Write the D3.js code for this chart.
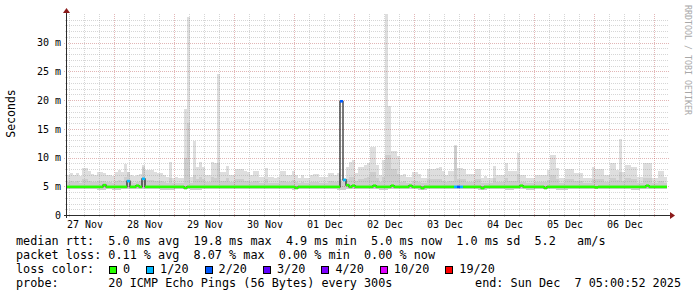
<!DOCTYPE html>
<html>
<head>
<meta charset="utf-8">
<script src="https://cdn.jsdelivr.net/npm/d3@7"></script>
<style>
  body { margin: 0; background: #fff; }
  svg { display: block; font-family: "DejaVu Sans Mono", monospace; }
  .pre { white-space: pre; }
</style>
</head>
<body>
<svg id="chart" width="697" height="297"></svg>
<script>
// one column = 72 minutes, 200 columns over the last 10 days
const startTime = Date.UTC(2025, 10, 27, 5, 0, 52);
const endTime = Date.UTC(2025, 11, 7, 5, 0, 52);
const stepMinutes = 72;

// median rtt per column (ms)
const medianRtt = [
  4.9,4.9,4.9,4.9,4.9,4.9,4.9,4.9,4.9,4.9,4.9,4.9,5.2,4.9,4.9,4.9,4.9,4.9,4.9,4.9,
  5.9,4.9,4.9,5.1,4.9,6.3,4.9,4.9,4.9,4.9,4.9,4.9,4.9,4.9,4.9,4.9,4.9,4.9,4.9,4.7,
  4.9,4.9,4.9,4.9,4.9,4.9,4.9,4.9,4.9,4.9,4.9,4.9,4.9,4.9,4.9,4.9,4.9,4.9,4.9,4.9,
  4.9,4.9,4.9,4.9,4.9,4.9,4.9,4.9,4.9,4.9,4.9,4.9,4.9,4.9,4.9,4.9,4.7,4.9,4.9,4.9,
  4.9,4.9,4.9,4.9,4.9,4.9,4.9,4.9,4.9,4.9,4.9,19.8,6.1,5.2,4.9,5.1,4.9,4.9,4.9,4.9,
  4.9,4.9,5.1,4.9,4.9,4.9,4.9,4.9,5.1,4.9,4.9,4.9,4.9,4.9,5.1,4.9,4.9,4.9,4.7,4.9,
  4.9,4.9,4.9,4.9,4.9,4.9,4.9,4.9,4.9,4.9,4.9,4.9,4.9,4.9,4.9,4.9,4.9,4.9,4.7,4.9,
  4.9,4.9,4.9,4.9,4.9,4.9,4.9,4.9,4.9,4.9,4.9,5.1,4.9,4.9,4.9,4.9,4.9,4.9,4.9,4.7,
  4.9,4.9,4.9,4.9,4.9,4.9,4.9,4.9,4.9,4.9,4.9,4.9,4.9,4.9,4.9,4.9,4.8,4.9,4.9,4.9,
  4.9,4.9,4.9,4.9,4.9,4.9,4.9,4.9,4.9,4.9,4.9,4.9,4.9,5.1,4.9,4.9,4.9,4.9,4.9,4.9
];

// lost pings out of 20 per column
const lossCount = [
  0,0,0,0,0,0,0,0,0,0,0,0,0,0,0,0,0,0,0,0,
  1,0,0,0,0,1,0,0,0,0,0,0,0,0,0,0,0,0,0,0,
  0,0,0,0,0,0,0,0,0,0,0,0,0,0,0,0,0,0,0,0,
  0,0,0,0,0,0,0,0,0,0,0,0,0,0,0,0,0,0,0,0,
  0,0,0,0,0,0,0,0,0,0,0,2,1,0,0,0,0,0,0,0,
  0,0,0,0,0,0,0,0,0,0,0,0,0,0,0,0,0,0,0,0,
  0,0,0,0,0,0,0,0,0,1,2,1,0,0,0,0,0,0,0,0,
  0,0,0,0,0,0,0,0,0,0,0,0,0,0,0,0,0,0,0,0,
  0,0,0,0,0,0,0,0,0,0,0,0,0,0,0,0,0,0,0,0,
  0,0,0,0,0,0,0,0,0,0,0,0,0,0,0,0,0,0,0,0
];

// smoke: slowest ping (ms)
const smokeHigh = [
  7.0,7.3,7.0,7.3,6.8,8.1,8.1,7.6,7.1,7.0,7.5,7.5,7.3,7.0,7.0,6.8,7.5,7.8,7.5,8.9,
  7.5,7.0,6.8,7.0,7.2,8.7,7.8,7.8,7.8,7.5,7.3,7.3,7.0,6.7,9.3,6.4,6.6,6.4,6.5,18.5,
  34.5,6.7,12.8,8.4,9.3,8.4,7.0,7.0,9.3,9.0,24.5,7.5,7.5,8.6,7.0,7.0,8.0,8.0,8.0,7.6,
  7.5,7.0,7.6,7.6,6.7,6.7,8.2,6.7,6.7,6.5,6.7,7.6,7.6,7.0,7.0,7.7,7.0,6.4,7.0,6.4,
  6.4,7.0,7.1,7.1,6.7,6.7,6.7,7.3,7.3,7.0,7.3,6.2,6.5,8.4,9.3,9.6,7.3,8.4,8.4,8.7,
  9.0,11.9,11.9,8.7,7.0,9.6,35.0,19.0,11.1,11.1,10.2,7.0,7.2,6.7,6.7,7.5,7.5,7.1,6.4,6.4,
  8.0,8.0,8.0,8.2,8.4,7.6,7.0,7.6,7.6,12.2,8.2,8.2,8.0,7.1,7.1,7.1,8.0,8.0,6.4,6.8,
  6.4,6.4,8.6,7.0,7.0,7.0,9.0,7.6,7.6,7.6,10.8,7.0,7.0,6.4,6.4,6.4,7.0,7.0,7.0,7.0,
  7.8,10.4,10.4,8.2,6.4,6.4,8.0,8.0,8.0,7.3,7.3,7.3,6.4,6.4,6.4,8.4,8.0,8.0,8.0,7.0,
  7.0,9.0,9.0,7.8,13.2,7.5,8.7,8.7,8.4,8.4,6.7,6.7,9.0,9.0,9.0,6.4,6.4,7.6,7.6,6.7
];

// smoke: top of the denser inner band (ms)
const smokeMid = [
  5.8,6.0,5.8,5.9,5.6,6.2,6.2,6.0,5.8,5.8,6.0,6.0,5.9,5.7,5.7,5.6,6.0,6.1,6.0,6.6,
  7.5,5.7,5.6,5.8,5.9,8.3,6.1,6.1,6.1,6.0,5.9,5.9,5.8,5.6,6.5,5.5,5.6,5.5,5.6,10.0,
  16.0,5.6,7.0,6.3,6.6,6.3,5.8,5.8,6.6,6.4,9.0,6.0,6.0,6.4,5.8,5.8,6.2,6.2,6.2,6.0,
  6.0,5.8,6.0,6.0,5.6,5.6,6.2,5.6,5.6,5.5,5.6,6.0,6.0,5.8,5.8,6.1,5.8,5.5,5.8,5.5,
  5.5,5.8,5.8,5.8,5.6,5.6,5.6,5.9,5.9,5.8,5.9,5.8,6.3,6.3,6.6,6.7,5.9,6.3,6.3,6.5,
  6.6,7.5,7.5,6.5,5.8,6.7,10.5,10.5,8.0,8.0,7.2,5.8,5.9,5.6,5.6,6.0,6.0,5.8,5.5,5.5,
  6.2,6.2,6.2,6.3,6.3,6.0,5.8,6.0,6.0,12.0,6.3,6.3,6.2,5.8,5.8,5.8,6.2,6.2,5.5,5.6,
  5.5,5.5,6.4,5.8,5.8,5.8,6.5,6.0,6.0,6.0,7.2,5.8,5.8,5.5,5.5,5.5,5.8,5.8,5.8,5.8,
  6.1,7.0,7.0,6.3,5.5,5.5,6.2,6.2,6.2,5.9,5.9,5.9,5.5,5.5,5.5,6.3,6.2,6.2,6.2,5.8,
  5.8,6.5,6.5,6.1,7.5,5.9,6.5,6.5,6.3,6.3,5.6,5.6,6.5,6.5,6.5,5.5,5.5,6.0,6.0,5.6
];

// smoke: fastest ping (ms)
const smokeLow = [
  4.5,4.5,4.5,4.5,4.5,4.5,4.5,4.5,4.5,4.5,4.3,4.3,4.3,4.5,4.5,4.3,4.3,4.3,4.5,4.5,
  4.5,4.5,4.5,4.5,4.5,4.5,4.5,4.5,4.5,4.5,4.5,4.3,4.3,4.3,4.3,4.3,4.5,4.5,4.5,4.5,
  4.5,4.3,4.3,4.3,4.3,4.5,4.5,4.5,4.5,4.5,4.5,4.5,4.5,4.5,4.5,4.5,4.5,4.5,4.5,4.5,
  4.5,4.5,4.5,4.5,4.5,4.5,4.5,4.5,4.5,4.5,4.5,4.5,4.5,4.5,4.5,4.3,4.5,4.5,4.5,4.5,
  4.5,4.5,4.5,4.5,4.5,4.5,4.5,4.5,4.5,4.5,4.3,4.3,4.3,4.5,4.5,4.5,4.5,4.5,4.5,4.5,
  4.5,4.5,4.5,4.5,4.3,4.3,4.3,4.5,4.5,4.5,4.5,4.5,4.5,4.5,4.5,4.5,4.5,4.3,4.3,4.3,
  4.5,4.5,4.5,4.5,4.5,4.5,4.5,4.5,4.5,4.5,4.5,4.5,4.5,4.5,4.5,4.5,4.5,4.3,4.3,4.3,
  4.5,4.5,4.5,4.5,4.5,4.5,4.3,4.3,4.3,4.5,4.5,4.5,4.5,4.3,4.3,4.3,4.5,4.5,4.5,4.5,
  4.5,4.5,4.5,4.3,4.3,4.3,4.3,4.5,4.5,4.5,4.5,4.5,4.5,4.5,4.5,4.5,4.5,4.5,4.5,4.5,
  4.5,4.5,4.5,4.5,4.5,4.5,4.5,4.5,4.3,4.3,4.3,4.5,4.5,4.5,4.5,4.5,4.5,4.5,4.5,4.5
];

const yTicks = [0, 5, 10, 15, 20, 25, 30];
const yTickLabels = ['0', '5 m', '10 m', '15 m', '20 m', '25 m', '30 m'];
const dayLabels = ['27 Nov', '28 Nov', '29 Nov', '30 Nov', '01 Dec', '02 Dec', '03 Dec', '04 Dec', '05 Dec', '06 Dec'];

const lossLevels = [0, 1, 2, 3, 4, 10, 19];
const lossLabels = ['0', '1/20', '2/20', '3/20', '4/20', '10/20', '19/20'];
const lossColors = ['#26ff00', '#00b8ff', '#0059ff', '#5e00ff', '#7e00ff', '#dd00ff', '#ff0000'];

const legendRtt = 'median rtt:  5.0 ms avg  19.8 ms max  4.9 ms min  5.0 ms now  1.0 ms sd  5.2   am/s';
const legendLoss = 'packet loss: 0.11 % avg  8.07 % max  0.00 % min  0.00 % now';
const legendProbe = 'probe:       20 ICMP Echo Pings (56 Bytes) every 300s';
const legendEnd = 'end: Sun Dec  7 05:00:52 2025';

const svg = d3.select('#chart');
const plotLeft = 67, plotRight = 667, plotTop = 14, plotBottom = 215;

const x = d3.scaleUtc().domain([new Date(startTime), new Date(endTime)]).range([plotLeft, plotRight]);
const y = d3.scaleLinear().domain([0, 35]).range([plotBottom, plotTop]);
const colTime = i => new Date(startTime + i * stepMinutes * 60000);
const colW = x(colTime(1)) - x(colTime(0));
const lossColor = n => lossColors[d3.bisectRight(lossLevels, n) - 1];

// smoke
const smoke = svg.append('g').attr('shape-rendering', 'crispEdges');
smoke.selectAll('rect.hi').data(smokeHigh).join('rect')
  .attr('class', 'hi')
  .attr('x', (d, i) => x(colTime(i)))
  .attr('width', colW)
  .attr('y', d => y(d))
  .attr('height', (d, i) => y(smokeLow[i]) - y(d))
  .attr('fill', '#dedede');
smoke.selectAll('rect.mid').data(smokeMid).join('rect')
  .attr('class', 'mid')
  .attr('x', (d, i) => x(colTime(i)))
  .attr('width', colW)
  .attr('y', d => y(d))
  .attr('height', (d, i) => y(smokeLow[i]) - y(d))
  .attr('fill', '#cdcdcd');

// grid
const grid = svg.append('g').attr('shape-rendering', 'crispEdges').attr('stroke-dasharray', '1,1');
const minorColor = 'rgba(140,140,140,0.36)', majorColor = 'rgba(170,40,40,0.34)';
const hours = d3.utcHour.every(6).range(new Date(startTime), new Date(endTime)).filter(t => t.getUTCHours() !== 0);
const days = d3.utcDay.range(new Date(startTime), new Date(endTime));
const yMinor = d3.range(1, 35).filter(v => v % 5 !== 0);
const yMajor = d3.range(5, 35, 5);

grid.selectAll('line.vmin').data(hours).join('line')
  .attr('x1', d => Math.round(x(d)) + 0.5).attr('x2', d => Math.round(x(d)) + 0.5)
  .attr('y1', plotTop).attr('y2', plotBottom + 2).attr('stroke', minorColor);
grid.selectAll('line.hmin').data(yMinor).join('line')
  .attr('x1', plotLeft - 2).attr('x2', plotRight + 2)
  .attr('y1', d => Math.round(y(d)) + 0.5).attr('y2', d => Math.round(y(d)) + 0.5)
  .attr('stroke', minorColor);
grid.selectAll('line.vmaj').data(days).join('line')
  .attr('x1', d => Math.round(x(d)) + 0.5).attr('x2', d => Math.round(x(d)) + 0.5)
  .attr('y1', plotTop).attr('y2', plotBottom + 3).attr('stroke', majorColor);
grid.selectAll('line.hmaj').data(yMajor).join('line')
  .attr('x1', plotLeft - 3).attr('x2', plotRight + 3)
  .attr('y1', d => Math.round(y(d)) + 0.5).attr('y2', d => Math.round(y(d)) + 0.5)
  .attr('stroke', majorColor);

// median line and loss coloured band
const medPts = medianRtt.map((d, i) => [x(colTime(i)), y(d)]);
medPts.push([x(colTime(medianRtt.length)), y(medianRtt[medianRtt.length - 1])]);
svg.append('path')
  .attr('d', d3.line().curve(d3.curveStepAfter)(medPts))
  .attr('fill', 'none').attr('stroke', '#202020').attr('stroke-width', 1.2);
svg.append('g').selectAll('rect').data(medianRtt).join('rect')
  .attr('x', (d, i) => x(colTime(i)))
  .attr('width', colW)
  .attr('y', d => y(d) - 1.3)
  .attr('height', 2.6)
  .attr('fill', (d, i) => lossColor(lossCount[i]));

// axes
const axisCol = '#2c2c2c', arrowCol = '#8b1a1a';
svg.append('line').attr('x1', plotLeft - 3).attr('x2', plotRight + 3).attr('y1', plotBottom + 0.5).attr('y2', plotBottom + 0.5)
  .attr('stroke', axisCol).attr('shape-rendering', 'crispEdges');
svg.append('line').attr('x1', plotLeft - 0.5).attr('x2', plotLeft - 0.5).attr('y1', plotBottom + 3).attr('y2', plotTop - 2)
  .attr('stroke', axisCol).attr('shape-rendering', 'crispEdges');
svg.append('path').attr('d', `M${plotLeft - 4},${plotTop - 1}L${plotLeft + 3},${plotTop - 1}L${plotLeft - 0.5},${plotTop - 6}Z`).attr('fill', arrowCol);
svg.append('path').attr('d', `M${plotRight + 3},${plotBottom - 3}L${plotRight + 3},${plotBottom + 4}L${plotRight + 8},${plotBottom + 0.5}Z`).attr('fill', arrowCol);

const labelTimes = [d3.utcDay.floor(new Date(startTime))].concat(days).map(d => d3.utcHour.offset(d, 12)).slice(0, dayLabels.length);

const xAxis = svg.append('g').attr('transform', `translate(0,${plotBottom})`)
  .call(d3.axisBottom(x).tickValues(labelTimes).tickFormat((d, i) => dayLabels[i]).tickSize(0).tickPadding(6));
xAxis.select('.domain').remove();
xAxis.selectAll('text').attr('font-family', '"DejaVu Sans Mono", monospace').attr('font-size', 10).attr('fill', '#000');

const yAxis = svg.append('g').attr('transform', `translate(${plotLeft},0)`)
  .call(d3.axisLeft(y).tickValues(yTicks).tickFormat((d, i) => yTickLabels[i]).tickSize(0).tickPadding(6));
yAxis.select('.domain').remove();
yAxis.selectAll('text').attr('font-family', '"DejaVu Sans Mono", monospace').attr('font-size', 10).attr('fill', '#000');

// titles
svg.append('text').attr('transform', 'translate(15,113.5) rotate(-90)')
  .attr('text-anchor', 'middle').attr('font-size', 11.5).text('Seconds');
svg.append('text').attr('transform', 'translate(685,5) rotate(90)')
  .attr('font-size', 9).attr('fill', '#a8a8a8')
  .attr('textLength', 110).attr('lengthAdjust', 'spacingAndGlyphs')
  .text('RRDTOOL / TOBI OETIKER');

// legend
const legFont = 11.8;
const leg = svg.append('g').attr('font-size', legFont).attr('fill', '#000');
leg.append('text').attr('class', 'pre').attr('x', 16).attr('y', 245).text(legendRtt);
leg.append('text').attr('class', 'pre').attr('x', 16).attr('y', 259).text(legendLoss);
leg.append('text').attr('class', 'pre').attr('x', 16).attr('y', 273).text('loss color:');
leg.append('text').attr('class', 'pre').attr('x', 16).attr('y', 287).text(legendProbe);
leg.append('text').attr('class', 'pre').attr('x', 681).attr('y', 287).attr('text-anchor', 'end').text(legendEnd);

let bx = 109;
lossLabels.forEach((lab, i) => {
  leg.append('rect').attr('x', bx + 0.5).attr('y', 266.5).attr('width', 7).attr('height', 7)
    .attr('fill', lossColors[i]).attr('stroke', '#000').attr('shape-rendering', 'crispEdges');
  const t = leg.append('text').attr('class', 'pre').attr('x', bx + 14).attr('y', 273).text(lab);
  bx = bx + 14 + t.node().getComputedTextLength() + 16;
});
</script>
</body>
</html>
